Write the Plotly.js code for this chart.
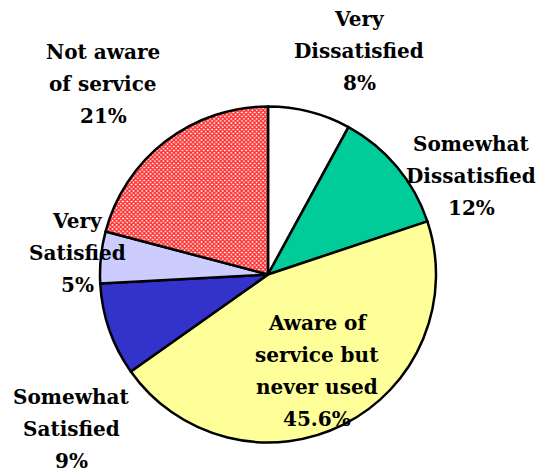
<!DOCTYPE html>
<html>
<head>
<meta charset="utf-8">
<script src="https://cdn.plot.ly/plotly-3.0.1.min.js"></script>
<style>html,body{margin:0;padding:0;background:#fff;}#chart{width:543px;height:472px;}</style>
</head>
<body>
<div id="chart"></div>
<script>
var categories = ["Very Dissatisfied", "Somewhat Dissatisfied", "Aware of service but never used", "Somewhat Satisfied", "Very Satisfied", "Not aware of service"];
var labelLines = ["Very<br>Dissatisfied", "Somewhat<br>Dissatisfied", "Aware of<br>service but<br>never used", "Somewhat<br>Satisfied", "Very<br>Satisfied", "Not aware<br>of service"];
var values = [8, 12, 45.6, 9, 5, 21];
var valueLabels = ["8%", "12%", "45.6%", "9%", "5%", "21%"];
var colors = ["#FFFFFF", "#00CC99", "#FFFF99", "#3333CC", "#CCCCFF", "#FFFFFF"];

// label block centres in pixels (layout only)
var labelPos = [[359, 51], [471, 176], [317, 371], [71, 429], [77, 253], [103, 84]];
var lineGap = 32;

var W = 543, H = 472;
var cx = 268, cy = 274.5, r = 168;
var serif = "DejaVu Serif";

var trace = {
  type: "pie",
  labels: categories,
  values: values,
  sort: false,
  direction: "clockwise",
  rotation: 0,
  textinfo: "none",
  hoverinfo: "label+percent",
  showlegend: false,
  domain: {x: [(cx - r) / W, (cx + r) / W], y: [1 - (cy + r) / H, 1 - (cy - r) / H]},
  marker: {
    colors: colors,
    line: {color: "#000000", width: 2.5},
    pattern: {
      shape: ["", "", "", "", "", "x"],
      fgcolor: "#FF2A2A",
      bgcolor: "#FFFFFF",
      size: 3,
      solidity: 0.7
    }
  }
};

var annotations = [];
categories.forEach(function (c, i) {
  var lines = labelLines[i].split("<br>").concat([valueLabels[i]]);
  var n = lines.length;
  lines.forEach(function (t, k) {
    var py = labelPos[i][1] + (k - (n - 1) / 2) * lineGap;
    annotations.push({
      text: "<b>" + t + "</b>",
      x: labelPos[i][0] / W,
      y: 1 - py / H,
      xref: "paper", yref: "paper",
      xanchor: "center", yanchor: "middle",
      showarrow: false,
      align: "center",
      font: {family: serif, size: 20, color: "#000"}
    });
  });
});

var layout = {
  width: W, height: H,
  margin: {l: 0, r: 0, t: 0, b: 0},
  paper_bgcolor: "#FFFFFF",
  font: {family: serif},
  annotations: annotations
};

Plotly.newPlot("chart", [trace], layout, {displayModeBar: false, staticPlot: true});
</script>
</body>
</html>
